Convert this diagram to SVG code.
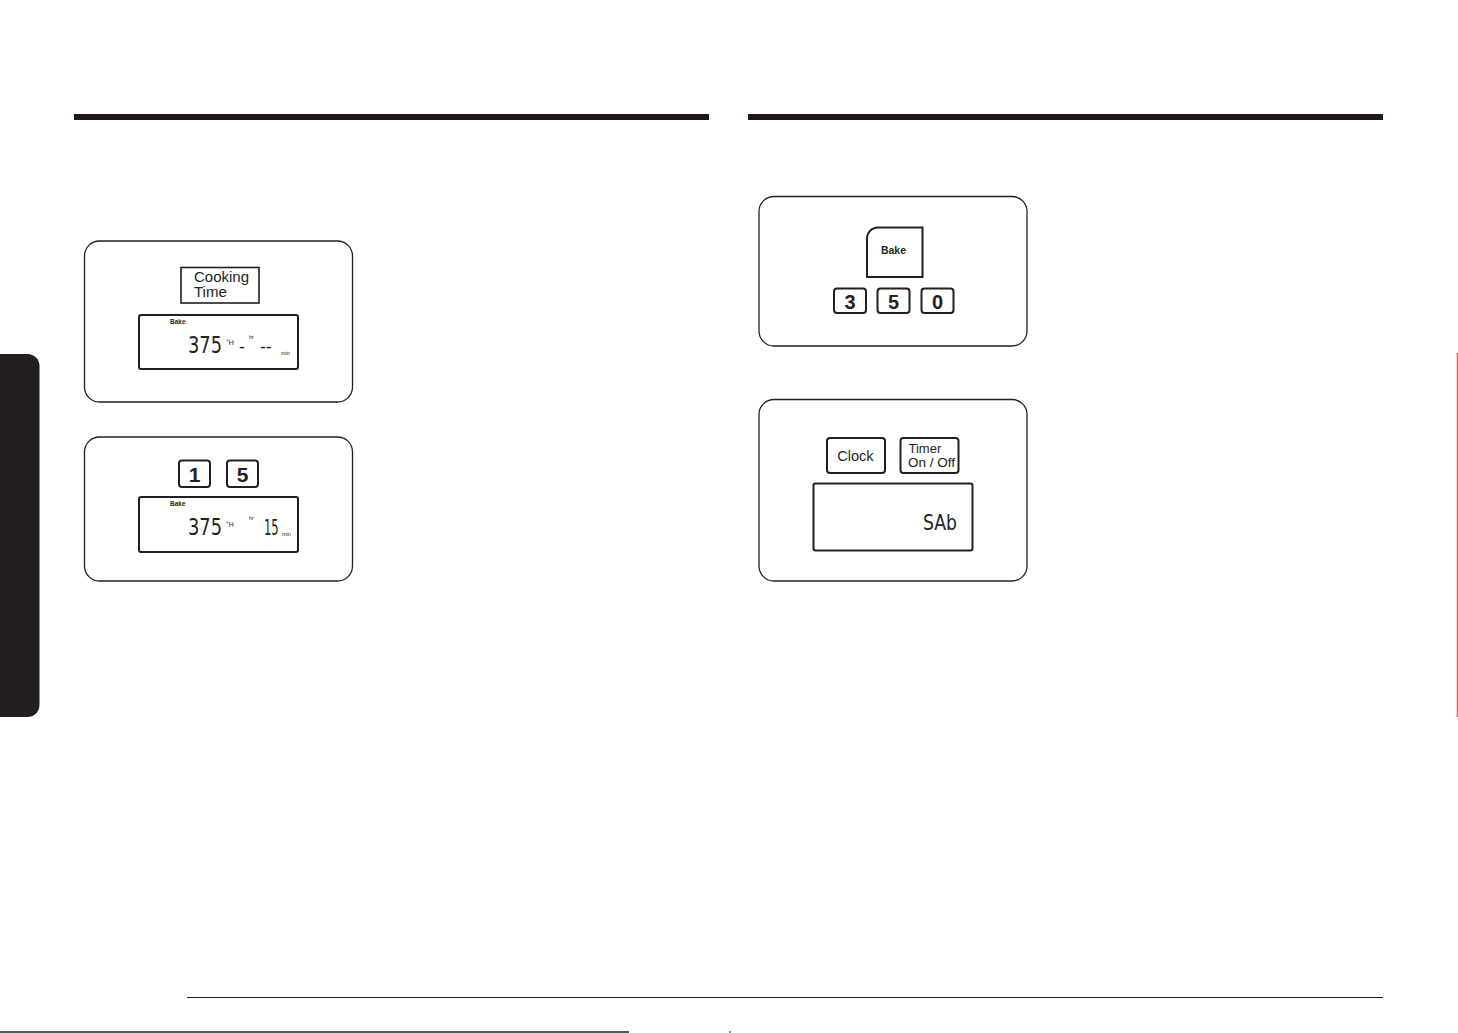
<svg xmlns="http://www.w3.org/2000/svg" width="1458" height="1033" viewBox="0 0 1458 1033">
<style>
.panel{fill:#fff;stroke:#231f20;stroke-width:1.3}
.btn{fill:#fff;stroke:#231f20;stroke-width:2}
.lcd{fill:#fff;stroke:#231f20;stroke-width:2}
.t{font-family:"Liberation Sans",Arial,sans-serif;fill:#231f20}
.b{font-weight:bold}
.seg{font-family:"DejaVu Sans Condensed","Liberation Sans",sans-serif;fill:#231f20;font-weight:300}
</style>
<rect width="1458" height="1033" fill="#fff"/>
<g id="rules">
<rect x="74" y="114" width="635" height="6" fill="#231815"/>
<rect x="748" y="114" width="635" height="6" fill="#231815"/>
<line x1="187" y1="997.5" x2="1383" y2="997.5" stroke="#231f20" stroke-width="1.2"/>
<line x1="0" y1="1032" x2="629" y2="1032" stroke="#231f20" stroke-width="1.5"/>
<line x1="730" y1="1031" x2="730" y2="1033" stroke="#231f20" stroke-width="1"/>
<line x1="1457.3" y1="353" x2="1457.3" y2="717" stroke="#e0302a" stroke-width="1"/>
<path d="M0 354 H27.5 A12 12 0 0 1 39.5 366 V705 A12 12 0 0 1 27.5 717 H0 Z" fill="#231f20"/>
</g>
<g id="panel-cooking-time">
<rect class="panel" x="84.5" y="241" width="268" height="161" rx="15"/>
<rect x="181" y="267.5" width="78" height="35.5" fill="#fff" stroke="#231f20" stroke-width="1.6"/>
<text class="t" x="194" y="282" font-size="15">Cooking</text>
<text class="t" x="194" y="297" font-size="15">Time</text>
<rect class="lcd" x="139" y="315" width="159" height="54" rx="2"/>
<text class="t b" x="170" y="323.5" font-size="6.5">Bake</text>
<text class="seg" x="188" y="353" font-size="23" textLength="34" lengthAdjust="spacingAndGlyphs">375</text>
<text class="t" x="226" y="345" font-size="7">°H</text>
<text class="seg" x="239" y="352" font-size="18">-</text>
<text class="t" x="249" y="339" font-size="5.5">hr</text>
<text class="seg" x="260" y="352" font-size="18">--</text>
<text class="t" x="281" y="355" font-size="5.5">min</text>
</g>
<g id="panel-15">
<rect class="panel" x="84.5" y="437" width="268" height="144" rx="15"/>
<rect class="btn" x="179" y="460.5" width="31" height="26.5" rx="3"/>
<text class="t b" x="194.5" y="481.5" font-size="21" text-anchor="middle">1</text>
<rect class="btn" x="227" y="460.5" width="31" height="26.5" rx="3"/>
<text class="t b" x="242.5" y="481.5" font-size="21" text-anchor="middle">5</text>
<rect class="lcd" x="139" y="497" width="159" height="55" rx="2"/>
<text class="t b" x="170" y="505.5" font-size="6.5">Bake</text>
<text class="seg" x="188" y="535" font-size="23" textLength="34" lengthAdjust="spacingAndGlyphs">375</text>
<text class="t" x="226" y="527" font-size="7">°H</text>
<text class="t" x="249" y="520" font-size="5.5">hr</text>
<text class="seg" transform="translate(264 535) scale(0.58 1)" font-size="22">15</text>
<text class="t" x="282" y="536" font-size="5.5">min</text>
</g>
<g id="panel-bake-350">
<rect class="panel" x="759" y="196.5" width="268" height="149.5" rx="15"/>
<path class="btn" d="M867 277 V239 A11 11 0 0 1 878 227.5 H922.5 V277 Z" stroke-width="1.8"/>
<text class="t b" x="893.5" y="254" font-size="11.5" text-anchor="middle" textLength="25" lengthAdjust="spacingAndGlyphs">Bake</text>
<rect class="btn" x="834" y="288.5" width="32" height="24.5" rx="3"/>
<text class="t b" x="850" y="308.5" font-size="20" text-anchor="middle">3</text>
<rect class="btn" x="877.5" y="288.5" width="32" height="24.5" rx="3"/>
<text class="t b" x="893.5" y="308.5" font-size="20" text-anchor="middle">5</text>
<rect class="btn" x="921.5" y="288.5" width="32" height="24.5" rx="3"/>
<text class="t b" x="937.5" y="308.5" font-size="20" text-anchor="middle">0</text>
</g>
<g id="panel-sabbath">
<rect class="panel" x="759" y="399.5" width="268" height="181.5" rx="15"/>
<rect class="btn" x="827" y="438" width="58" height="35" rx="3"/>
<text class="t" x="855.5" y="461" font-size="14.5" text-anchor="middle">Clock</text>
<rect class="btn" x="900.5" y="438" width="58" height="35" rx="3"/>
<text class="t" x="908.5" y="453" font-size="13">Timer</text>
<text class="t" x="908" y="467" font-size="13" textLength="47" lengthAdjust="spacingAndGlyphs">On / Off</text>
<rect class="lcd" x="813.5" y="483.5" width="159" height="67" rx="2"/>
<text class="seg" x="923" y="530" font-size="21" textLength="34" lengthAdjust="spacingAndGlyphs">SAb</text>
</g>
</svg>
